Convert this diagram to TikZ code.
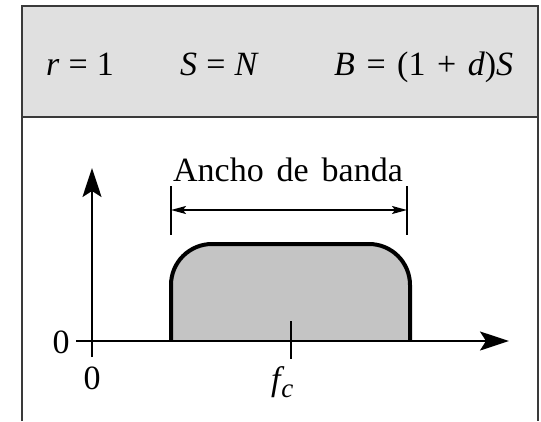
\documentclass[tikz,border=0pt]{standalone}
\usepackage{fontspec}
\setmainfont{Liberation Serif}
\usetikzlibrary{arrows.meta}
\definecolor{hdrfill}{HTML}{E0E0E0}
\definecolor{bandfill}{HTML}{C4C4C4}
\definecolor{frame}{HTML}{3A3A3A}
\newcommand{\msp}{\hspace{0.27em}}
\newcommand{\mspb}{\hspace{0.34em}}
\newcommand{\wsp}{\hspace{0.38em}}
\begin{document}
\begin{tikzpicture}[x=1pt,y=-1pt,
  framestyle/.style={draw=frame,line width=2pt},
  axisstyle/.style={line width=2pt,-{Stealth[length=29pt,width=19pt,inset=6pt]}},
  bandline/.style={line width=4pt,line join=round},
  tickstyle/.style={line width=2pt},
  bwarrow/.style={line width=1.6pt,{Stealth[length=15pt,width=8pt,inset=3pt]}-{Stealth[length=15pt,width=8pt,inset=3pt]}},
  txt/.style={inner sep=0pt,font=\fontsize{34}{40}\selectfont}
]
\useasboundingbox (0,0) rectangle (541,421);
% frame
\coordinate (tl) at (22,6);
\coordinate (tr) at (538,6);
\coordinate (hl) at (22,117);
\coordinate (hr) at (538,117);
\coordinate (bl) at (22,421);
\coordinate (br) at (538,421);
\fill[hdrfill] (tl) rectangle (hr);
\draw[framestyle] (bl) -- (tl) -- (tr) -- (br);
\draw[framestyle] (hl) -- (hr);
% header text
\node[txt,anchor=base west] (eq1) at (46,75) {\itshape r\upshape\msp=\msp1};
\node[txt,anchor=base west] (eq2) at (180,75) {\itshape S\upshape\msp=\msp\itshape N};
\node[txt,anchor=base west] (eq3) at (334,75) {\itshape B\upshape\mspb=\mspb(1\mspb+\mspb\itshape d\upshape)\itshape S};
% band
\coordinate (b0) at (171,341);
\coordinate (b3) at (410,341);
\fill[bandfill] (b0) -- (171,285) arc[start angle=180,end angle=90,radius=41pt]
  -- (369,244) arc[start angle=90,end angle=0,radius=41pt] -- (b3) -- cycle;
\draw[bandline] (b0) -- (171,285) arc[start angle=180,end angle=90,radius=41pt]
  -- (369,244) arc[start angle=90,end angle=0,radius=41pt] -- (b3);
% axes
\coordinate (xs) at (76,341);
\coordinate (xe) at (509,341);
\coordinate (ys) at (92,357);
\coordinate (ye) at (92,168);
\draw[axisstyle] (xs) -- (xe);
\draw[axisstyle] (ys) -- (ye);
% fc tick
\coordinate (ft) at (291,321);
\coordinate (fb) at (291,359);
\draw[tickstyle] (ft) -- (fb);
\node[txt,anchor=base west] (fc) at (271,390) {\itshape f\hspace{0.02em}\raisebox{-0.22em}{\fontsize{27}{30}\selectfont c}};
% zeros
\node[txt] (zl) at (61,342) {0};
\node[txt] (zb) at (92,378) {0};
% bandwidth
\coordinate (lt) at (171,186);
\coordinate (lb) at (171,235);
\coordinate (rt) at (407,186);
\coordinate (rb) at (407,235);
\coordinate (la) at (171,210);
\coordinate (ra) at (407,210);
\draw[tickstyle] (lt) -- (lb);
\draw[tickstyle] (rt) -- (rb);
\draw[bwarrow] (la) -- (ra);
\node[txt,anchor=base] (bw) at (288,181) {Ancho\wsp de\wsp banda};
\end{tikzpicture}
\end{document}
